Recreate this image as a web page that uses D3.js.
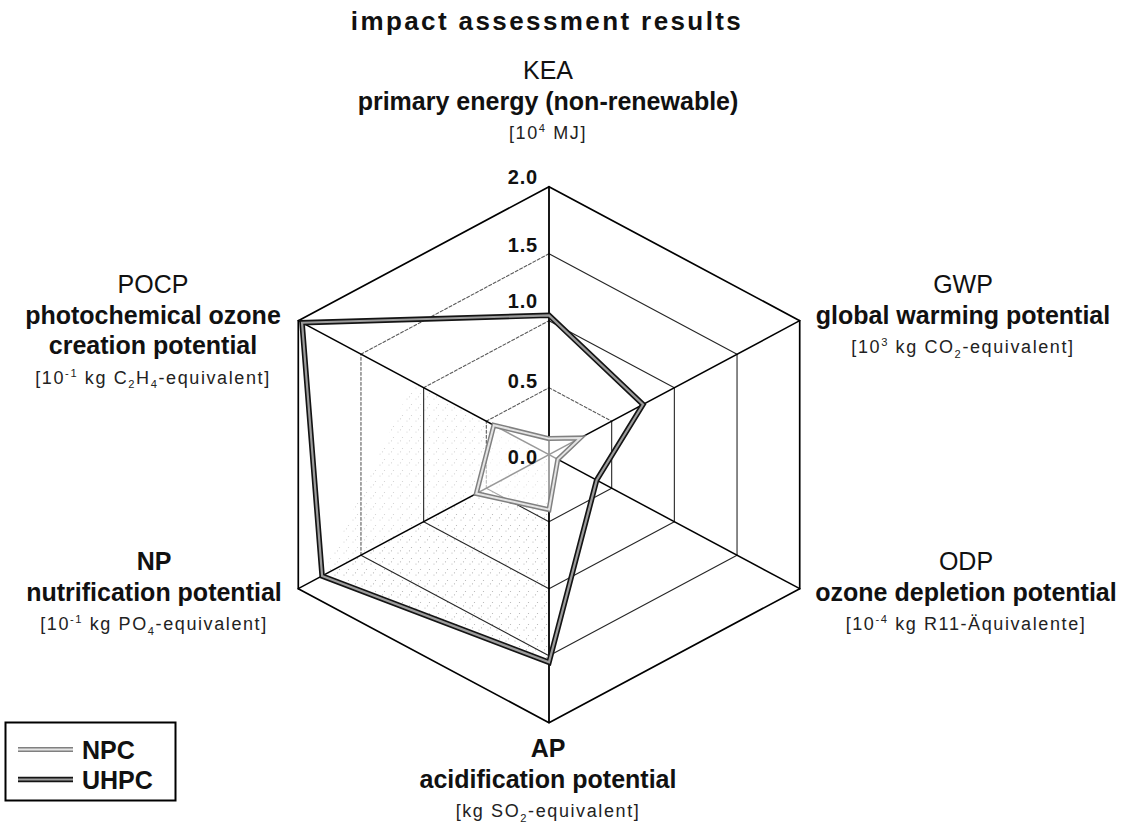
<!DOCTYPE html>
<html>
<head>
<meta charset="utf-8">
<script src="https://cdn.jsdelivr.net/npm/d3@7"></script>
<style>
  html, body { margin: 0; padding: 0; background: #fff; }
  svg { display: block; font-family: "Liberation Sans", Arial, Helvetica, sans-serif; }
</style>
</head>
<body>
<svg id="chart" width="1132" height="823"></svg>
<script>
// ---- data -------------------------------------------------------------
const chartTitle = "impact assessment results";
const axisCodes = ["KEA", "GWP", "ODP", "AP", "NP", "POCP"];
const axisNames = [
  ["primary energy (non-renewable)"],
  ["global warming potential"],
  ["ozone depletion potential"],
  ["acidification potential"],
  ["nutrification potential"],
  ["photochemical ozone", "creation potential"]
];
// unit strings as [text, shift] pieces: 1 = superscript, -1 = subscript
const axisUnits = [
  [["[10", 0], ["4", 1], [" MJ]", 0]],
  [["[10", 0], ["3", 1], [" kg CO", 0], ["2", -1], ["-equivalent]", 0]],
  [["[10", 0], ["-4", 1], [" kg R11-Äquivalente]", 0]],
  [["[kg SO", 0], ["2", -1], ["-equivalent]", 0]],
  [["[10", 0], ["-1", 1], [" kg PO", 0], ["4", -1], ["-equivalent]", 0]],
  [["[10", 0], ["-1", 1], [" kg C", 0], ["2", -1], ["H", 0], ["4", -1], ["-equivalent]", 0]]
];
const seriesNames = ["NPC", "UHPC"];
const npcValues  = [0.12, 0.25, 0.07, 0.41, 0.58, 0.44];
const uhpcValues = [1.04, 0.75, 0.38, 1.55, 1.81, 1.97];
const tickValues = [0, 0.5, 1.0, 1.5, 2.0];
const tickLabels = ["0.0", "0.5", "1.0", "1.5", "2.0"];

// ---- layout -----------------------------------------------------------
const cx = 549, cy = 454.7;
const R = 289.5;          // radius of the 2.0 ring (horizontal)
const squash = 0.9257;    // vertical compression of the web
const codeBold = [false, false, false, true, true, false];
const blockPos = [
  { x: 548, y: 79 },  { x: 963, y: 293 }, { x: 966, y: 570 },
  { x: 548, y: 757 }, { x: 154, y: 570 }, { x: 153, y: 293 }
];
const tickNudge = [9, 0, -13, -2, -3];
// ring edges (level, edge from axis j to j+1) printed as broken lines
const brokenEdges = [[0.5, 5], [0.5, 0], [0.5, 4], [1.0, 5], [1.5, 5], [1.5, 4]];

const svg = d3.select("#chart");
const r = d3.scaleLinear().domain([0, 2]).range([0, R]);
const angle = d3.scalePoint().domain(d3.range(axisCodes.length))
  .range([0, 2 * Math.PI * (axisCodes.length - 1) / axisCodes.length]);
const pt = (i, v) => {
  const a = angle(i % axisCodes.length);
  return [cx + r(v) * Math.sin(a), cy - r(v) * Math.cos(a) * squash];
};
const ring = d3.line().curve(d3.curveLinearClosed);
const idx = d3.range(axisCodes.length);

// light stipple texture inside the UHPC area on the lower-left side
const defs = svg.append("defs");
const pat = defs.append("pattern").attr("id", "stipple")
  .attr("width", 9).attr("height", 11).attr("patternUnits", "userSpaceOnUse");
[[2, 3], [6.5, 8.5], [4.5, 0.8]].forEach(([x, y]) =>
  pat.append("circle").attr("cx", x).attr("cy", y).attr("r", 0.6).attr("fill", "#a8a8a8"));

svg.append("path")
  .attr("d", ring([[cx, cy], pt(4, uhpcValues[4]), pt(3, uhpcValues[3])]))
  .attr("fill", "url(#stipple)").attr("opacity", 0.9);
svg.append("path")
  .attr("d", ring([[cx, cy], pt(5, uhpcValues[5] * 0.55), pt(4, uhpcValues[4])]))
  .attr("fill", "url(#stipple)").attr("opacity", 0.55);

// ---- web ---------------------------------------------------------------
const grid = svg.append("g");
tickValues.filter(t => t > 0).forEach(t => {
  idx.forEach(j => {
    const a = pt(j, t), b = pt(j + 1, t);
    const broken = brokenEdges.some(([lv, e]) => lv === t && e === j);
    grid.append("line")
      .attr("x1", a[0]).attr("y1", a[1]).attr("x2", b[0]).attr("y2", b[1])
      .attr("stroke", t === 2 ? "#000" : broken ? "#5a5a5a" : "#262626")
      .attr("stroke-width", t === 2 ? 1.7 : 1.1)
      .attr("stroke-dasharray", broken ? "3,2" : null)
      .attr("stroke-linecap", "round");
  });
});
idx.forEach(i => {
  grid.append("line")
    .attr("x1", cx).attr("y1", cy)
    .attr("x2", pt(i, 2)[0]).attr("y2", pt(i, 2)[1])
    .attr("stroke", "#000").attr("stroke-width", i === 0 || i === 3 ? 1.8 : 1.5);
});
// spokes read fainter inside the NPC area
svg.append("path")
  .attr("d", ring(idx.map(i => pt(i, npcValues[i]))))
  .attr("fill", "#fff").attr("opacity", 0.6);

// tick labels on the vertical axis
svg.append("g").selectAll("text").data(tickValues).join("text")
  .attr("x", cx - 11)
  .attr("y", (d, j) => pt(0, d)[1] + tickNudge[j])
  .attr("text-anchor", "end")
  .attr("font-size", 20).attr("font-weight", "bold").attr("letter-spacing", 0.8)
  .attr("fill", "#111")
  .text((d, j) => tickLabels[j]);

// ---- series ------------------------------------------------------------
const seriesStyle = [
  { outer: "#808080", inner: "#e4e4e4", ow: 5, iw: 2 },
  { outer: "#141414", inner: "#9c9c9c", ow: 5.5, iw: 2.2 }
];
[npcValues, uhpcValues].forEach((vals, s) => {
  const d = ring(idx.map(i => pt(i, vals[i])));
  const st = seriesStyle[s];
  svg.append("path").attr("d", d).attr("fill", "none")
    .attr("stroke", st.outer).attr("stroke-width", st.ow).attr("stroke-linejoin", "miter");
  svg.append("path").attr("d", d).attr("fill", "none")
    .attr("stroke", st.inner).attr("stroke-width", st.iw).attr("stroke-linejoin", "miter");
});

// ---- axis captions -----------------------------------------------------
function writeUnit(textSel, pieces, size) {
  let shift = 0;
  pieces.forEach(([txt, s]) => {
    const target = s === 1 ? -0.38 * size : s === -1 ? 0.25 * size : 0;
    textSel.append("tspan")
      .attr("dy", target - shift)
      .attr("font-size", s === 0 ? size : size * 0.62)
      .text(txt);
    shift = target;
  });
}
idx.forEach(i => {
  const g = svg.append("g").attr("text-anchor", "middle").attr("fill", "#111");
  const p = blockPos[i];
  let y = p.y;
  g.append("text").attr("x", p.x).attr("y", y)
    .attr("font-size", 25).attr("font-weight", codeBold[i] ? "bold" : "normal")
    .text(axisCodes[i]);
  axisNames[i].forEach(line => {
    y += 30.5;
    g.append("text").attr("x", p.x).attr("y", y)
      .attr("font-size", 25).attr("font-weight", "bold").text(line);
  });
  y += 29.5;
  const u = g.append("text").attr("x", p.x).attr("y", y)
    .attr("font-size", 18).attr("letter-spacing", 1.6).attr("fill", "#222");
  writeUnit(u, axisUnits[i], 18);
});

// ---- title -------------------------------------------------------------
svg.append("text").attr("x", 547).attr("y", 30)
  .attr("text-anchor", "middle").attr("font-size", 26).attr("font-weight", "bold")
  .attr("letter-spacing", 2.4).attr("fill", "#111").text(chartTitle);

// ---- legend ------------------------------------------------------------
const lg = svg.append("g");
lg.append("rect").attr("x", 5.5).attr("y", 722.5).attr("width", 170).attr("height", 78)
  .attr("fill", "#fff").attr("stroke", "#000").attr("stroke-width", 2);
seriesNames.forEach((name, s) => {
  const y = 749.5 + s * 30;
  const st = seriesStyle[s];
  lg.append("line").attr("x1", 18).attr("x2", 73).attr("y1", y).attr("y2", y)
    .attr("stroke", st.outer).attr("stroke-width", st.ow);
  lg.append("line").attr("x1", 18).attr("x2", 73).attr("y1", y).attr("y2", y)
    .attr("stroke", st.inner).attr("stroke-width", st.iw);
  lg.append("text").attr("x", 82).attr("y", y + 9)
    .attr("font-size", 25).attr("font-weight", "bold").attr("fill", "#111").text(name);
});
</script>
</body>
</html>
